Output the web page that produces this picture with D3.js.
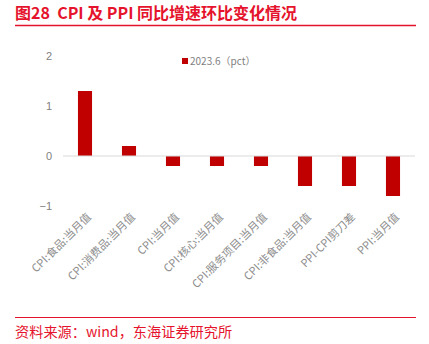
<!DOCTYPE html>
<html><head><meta charset="utf-8">
<script src="https://cdn.jsdelivr.net/npm/d3@7"></script>
<style>body{margin:0;background:#fff;}svg{display:block;}text{white-space:pre;}</style>
</head><body>
<svg id="c" width="429" height="344"></svg>
<script>
const categories = ["CPI:食品:当月值","CPI:消费品:当月值","CPI:当月值","CPI:核心:当月值","CPI:服务项目:当月值","CPI:非食品:当月值","PPI-CPI剪刀差","PPI:当月值"];
const values = [1.3, 0.2, -0.2, -0.2, -0.2, -0.6, -0.6, -0.8];
const yTicks = [2, 1, 0, -1];
const seriesName = "2023.6（pct）";
const titleText = "图28  CPI 及 PPI 同比增速环比变化情况";
const sourceText = "资料来源：wind，东海证券研究所";

const svg = d3.select("#c");
const red = "#E5132C";
const barColor = "#C00000";
const font = "'Noto Sans CJK SC', 'Noto Sans', sans-serif";

svg.append("text").attr("x",15).attr("y",19).attr("font-family",font).attr("font-weight","bold")
  .attr("font-size",16).attr("fill",red).text(titleText);
svg.append("line").attr("x1",15).attr("x2",416).attr("y1",25.5).attr("y2",25.5).attr("stroke",red).attr("stroke-width",1.5);

const x = d3.scaleBand().domain(categories).range([63,415]).paddingInner(0.68).paddingOuter(0.34);
const y = d3.scaleLinear().domain([-1,2]).range([206,56]);

const yAxis = svg.append("g").attr("transform","translate(52,0)")
  .call(d3.axisLeft(y).tickValues(yTicks).tickSize(0).tickPadding(0).tickFormat(d3.format("d")));
yAxis.select(".domain").remove();
yAxis.selectAll("text").attr("font-family","'Liberation Sans', Arial, sans-serif").attr("font-size",11).attr("fill","#7F7F7F");

svg.selectAll("rect.bar").data(values).join("rect").attr("class","bar")
  .attr("x",(d,i)=>x(categories[i]))
  .attr("width",x.bandwidth())
  .attr("y",d=>y(Math.max(0,d)))
  .attr("height",d=>Math.abs(y(d)-y(0)))
  .attr("fill",barColor);

svg.append("line").attr("x1",63).attr("x2",415).attr("y1",y(0)).attr("y2",y(0)).attr("stroke","#D9D9D9").attr("stroke-width",1);

const xAxis = svg.append("g").attr("transform","translate(0,215)")
  .call(d3.axisBottom(x).tickSize(0).tickPadding(0));
xAxis.select(".domain").remove();
xAxis.selectAll("text")
  .attr("font-family",font).attr("font-size",11).attr("fill","#8C8C8C")
  .attr("text-anchor","end").attr("dy","0.35em")
  .attr("transform","translate(4,0) rotate(-45)");

// legend
const lg = svg.append("g").attr("transform","translate(182,58)");
lg.append("rect").attr("x",0).attr("y",0).attr("width",6).attr("height",6).attr("fill",barColor);
lg.append("text").attr("x",8).attr("y",7).attr("font-family",font).attr("font-size",10).attr("fill","#7F7F7F").text(seriesName);

svg.append("line").attr("x1",15).attr("x2",416).attr("y1",317.5).attr("y2",317.5).attr("stroke",red).attr("stroke-width",1.2);
svg.append("text").attr("x",15).attr("y",337).attr("font-family",font).attr("font-size",14.2).attr("fill",red).text(sourceText);
</script>
</body></html>
